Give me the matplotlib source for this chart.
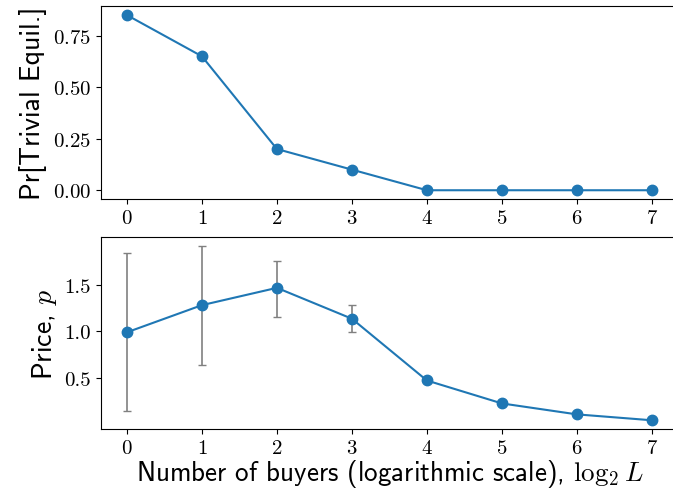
import matplotlib
matplotlib.use("Agg")
import matplotlib.pyplot as plt
from matplotlib.ticker import FixedLocator, FormatStrFormatter

plt.rcParams["font.family"] = "cmr10"
plt.rcParams["mathtext.fontset"] = "cm"
plt.rcParams["axes.formatter.use_mathtext"] = True
plt.rcParams["axes.unicode_minus"] = False

# log2 of number of buyers
log_buyers = [0, 1, 2, 3, 4, 5, 6, 7]
# probability of trivial equilibrium
pr_trivial = [0.85, 0.65, 0.20, 0.10, 0.0, 0.0, 0.0, 0.0]
# mean price with lower / upper range
price = [0.99, 1.28, 1.465, 1.135, 0.475, 0.23, 0.113, 0.05]
price_low = [0.15, 0.64, 1.155, 0.99, 0.475, 0.23, 0.113, 0.05]
price_high = [1.84, 1.91, 1.75, 1.285, 0.475, 0.23, 0.113, 0.05]
price_ticks = [0.5, 1.0, 1.5]

err_lo = [p - l for p, l in zip(price, price_low)]
err_hi = [h - p for p, h in zip(price, price_high)]

fig = plt.figure(figsize=(6.73, 4.89), dpi=100)
ax1 = fig.add_axes([0.1496, 0.591, 0.858, 0.394])
ax2 = fig.add_axes([0.1496, 0.1207, 0.858, 0.3916])

ax1.plot(log_buyers, pr_trivial, "o-", color="#1f77b4", markersize=7.5, linewidth=1.5)
ax1.set_ylabel("Pr[Trivial Equil.]", fontfamily="cmss10", fontsize=20)

ax2.errorbar(log_buyers, price, yerr=[err_lo, err_hi], fmt="none",
             ecolor="#808080", capsize=3, elinewidth=1.2)
ax2.plot(log_buyers, price, "o-", color="#1f77b4", markersize=7.5, linewidth=1.5)
ax2.yaxis.set_major_locator(FixedLocator(price_ticks))
ax2.yaxis.set_major_formatter(FormatStrFormatter("%.1f"))
ax2.set_ylabel("Price, $p$", fontfamily="cmss10", fontsize=20)
ax2.set_xlabel(r"Number of buyers (logarithmic scale), $\log_2 L$",
               fontfamily="cmss10", fontsize=19.5, labelpad=0)

for ax in (ax1, ax2):
    ax.set_xticks(log_buyers)
    ax.tick_params(labelsize=15)

fig.savefig("out.png", dpi=100)
